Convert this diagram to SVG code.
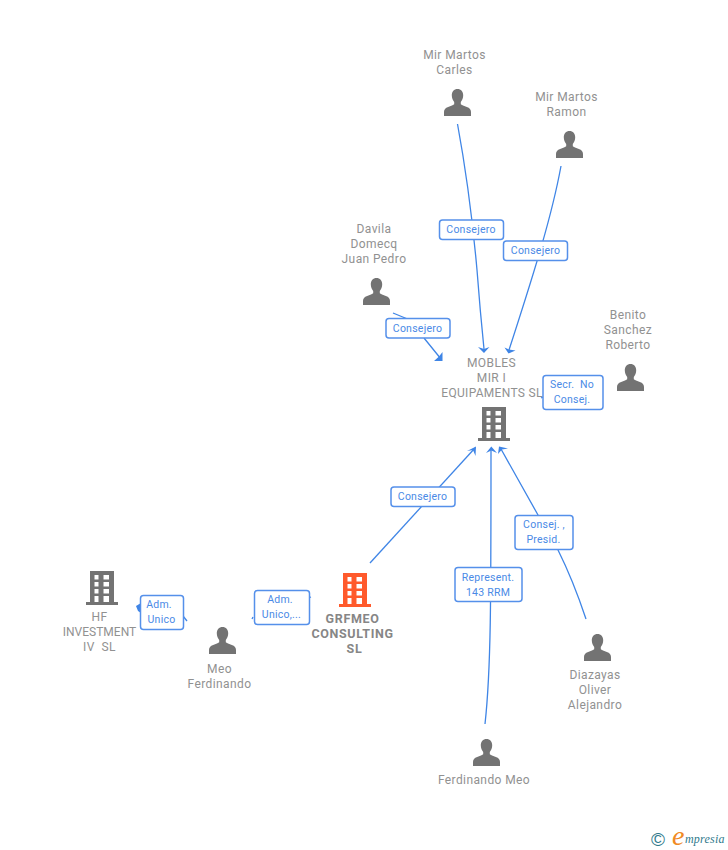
<svg xmlns="http://www.w3.org/2000/svg" width="728" height="850" viewBox="0 0 728 850">
<style>
text{font-family:Roboto,"Liberation Sans",sans-serif;font-size:12px;fill:#919191;text-anchor:middle;letter-spacing:.4px}
.b{font-weight:700;font-size:12.5px;fill:#868686;letter-spacing:.65px}
.l{font-size:10.5px;fill:#4a8ae6;letter-spacing:.25px}
.c{fill:none;stroke:#3f85e6;stroke-width:1.3}
.a{fill:#3f85e6}
.box{fill:#fff;stroke:#5590ea;stroke-width:1.5}
.logo{font-family:"Liberation Serif",serif;font-style:italic;font-size:12px;fill:#2f7a8c;text-anchor:start;letter-spacing:.2px}
</style>
<defs>
<symbol id="p" viewBox="0 0 27 27" width="27" height="27"><path fill="#737373" d="M13.5 0C17 0 19.2 2.600 19.200 6.300C19.200 9 18.200 11.300 16.800 12.900V15.200C18 16.400 21 17.200 23.500 18.300C25.800 19.300 27 20.800 27 23V27H0V23C0 20.800 1.200 19.300 3.500 18.300C6 17.200 9 16.400 10.200 15.200V12.900C8.800 11.300 7.800 9 7.800 6.300C7.800 2.600 10 0 13.500 0Z"/></symbol>
<symbol id="bg" viewBox="0 0 32 34" width="32" height="34"><path fill="#737373" fill-rule="evenodd" d="M4 0H28V31H32V34H0V31H4ZM8.500 4V8.500H12.500V4ZM17.500 4V8.500H23V4ZM8.500 11V15.500H12.500V11ZM17.500 11V15.500H23V11ZM8.500 18V22.500H12.500V18ZM17.500 18V22.500H23V18ZM8.500 25V31H12.500V25ZM17.500 25V31H23V25Z"/></symbol>
<symbol id="bo" viewBox="0 0 32 34" width="32" height="34"><path fill="#ff5a2c" fill-rule="evenodd" d="M4 0H28V31H32V34H0V31H4ZM8.500 4V8.500H12.500V4ZM17.500 4V8.500H23V4ZM8.500 11V15.500H12.500V11ZM17.500 11V15.500H23V11ZM8.500 18V22.500H12.500V18ZM17.500 18V22.500H23V18ZM8.500 25V31H12.500V25ZM17.500 25V31H23V25Z"/></symbol>
</defs>
<g id="connectors">
<path class="c" d="M457.500 124C466 170 473 225 477 270Q480 310 484 349"/>
<path class="a" d="M478 347L484 349L489.500 347L484 353Z"/>
<path class="c" d="M561 166C552 215 535 270 509 350"/>
<path class="a" d="M504.500 347.500L509 349.500L515.500 350.500L508.500 353.500Z"/>
<path class="c" d="M393 313L410 320M424 338L441 359"/>
<path class="a" d="M442.500 361L442.500 352L439 356.500L434 361Z"/>
<path class="c" d="M370 563L475 448"/>
<path class="a" d="M467 451L473 450L475.500 456L476 446.500Z"/>
<path class="c" d="M485 724C491 670 491 600 491 449"/>
<path class="a" d="M486 453L491.300 446.500L497 453L491.300 450.500Z"/>
<path class="c" d="M586 619Q573 580 558 550L538 515L501 449"/>
<path class="a" d="M498 454L499 446.500L508 448.500L502 449.500Z"/>
<path class="c" d="M541 398L543 397"/>
<path class="c" d="M187 621L183 616"/>
<path class="a" d="M136 606L141 603V613L138 611Z"/>
<path class="c" d="M253 617L252 619M311 597L308 598"/>
</g>
<g id="n-carles"><use href="#p" x="444" y="89"/><text x="454.500" y="59">Mir Martos</text><text x="454.500" y="74">Carles</text></g>
<g id="n-ramon"><use href="#p" x="556" y="131"/><text x="566.500" y="101">Mir Martos</text><text x="566.500" y="116">Ramon</text></g>
<g id="n-davila"><use href="#p" x="363" y="278"/><text x="374" y="233">Davila</text><text x="374" y="248">Domecq</text><text x="374" y="263">Juan Pedro</text></g>
<g id="n-benito"><use href="#p" x="617" y="364"/><text x="628" y="319">Benito</text><text x="628" y="334">Sanchez</text><text x="628" y="349">Roberto</text></g>
<g id="n-mobles"><use href="#bg" x="478" y="407"/><text x="491.500" y="367">MOBLES</text><text x="491.500" y="382">MIR I</text><text x="492" y="397" style="letter-spacing:.3px">EQUIPAMENTS SL</text></g>
<g id="n-hf"><use href="#bg" x="86" y="571"/><text x="99.500" y="621">HF</text><text x="99.500" y="636" style="letter-spacing:0">INVESTMENT</text><text x="99.500" y="651" xml:space="preserve">IV  SL</text></g>
<g id="n-meo"><use href="#p" x="209" y="627"/><text x="219.500" y="673">Meo</text><text x="219.500" y="688">Ferdinando</text></g>
<g id="n-grfmeo"><use href="#bo" x="339" y="573"/><text class="b" x="352.500" y="623">GRFMEO</text><text class="b" x="352.500" y="638">CONSULTING</text><text class="b" x="354.500" y="653">SL</text></g>
<g id="n-diazayas"><use href="#p" x="584" y="634"/><text x="595" y="679">Diazayas</text><text x="595" y="694">Oliver</text><text x="595" y="709">Alejandro</text></g>
<g id="n-ferdinando"><use href="#p" x="473" y="739"/><text x="484" y="784">Ferdinando Meo</text></g>
<g id="labels">
<rect class="box" x="439.500" y="220" width="64" height="19.500" rx="3"/><text class="l" x="471" y="233">Consejero</text>
<rect class="box" x="503.500" y="241" width="64" height="19.500" rx="3"/><text class="l" x="535.500" y="254">Consejero</text>
<rect class="box" x="386" y="318.500" width="64" height="19.500" rx="3"/><text class="l" x="417.500" y="332">Consejero</text>
<rect class="box" x="543" y="375.500" width="60" height="34" rx="3"/><text class="l" x="572" y="388" xml:space="preserve">Secr.  No</text><text class="l" x="572" y="403">Consej.</text>
<rect class="box" x="391" y="487" width="64" height="19.500" rx="3"/><text class="l" x="422.500" y="500">Consejero</text>
<rect class="box" x="515" y="515.500" width="58" height="34" rx="3"/><text class="l" x="544" y="528">Consej. ,</text><text class="l" x="543.500" y="543">Presid.</text>
<rect class="box" x="455" y="567.500" width="67" height="34" rx="3"/><text class="l" x="488" y="581">Represent.</text><text class="l" x="488" y="596">143 RRM</text>
<rect class="box" x="140.500" y="595.500" width="43" height="34" rx="3"/><text class="l" x="159" y="608">Adm.</text><text class="l" x="161.500" y="623">Unico</text>
<rect class="box" x="254.500" y="590.500" width="55" height="34" rx="3"/><text class="l" x="280" y="603">Adm.</text><text class="l" x="281.500" y="618">Unico,...</text>
</g>
<g id="logo">
<text class="logo" x="651" y="846" style="font-size:19px;letter-spacing:0;font-family:'Liberation Sans',sans-serif;font-style:normal">©</text>
<text class="logo" x="672" y="845" style="font-size:28px;fill:#f08a24;letter-spacing:0">e</text>
<text class="logo" x="685" y="843">mpresia</text>
</g>
</svg>
